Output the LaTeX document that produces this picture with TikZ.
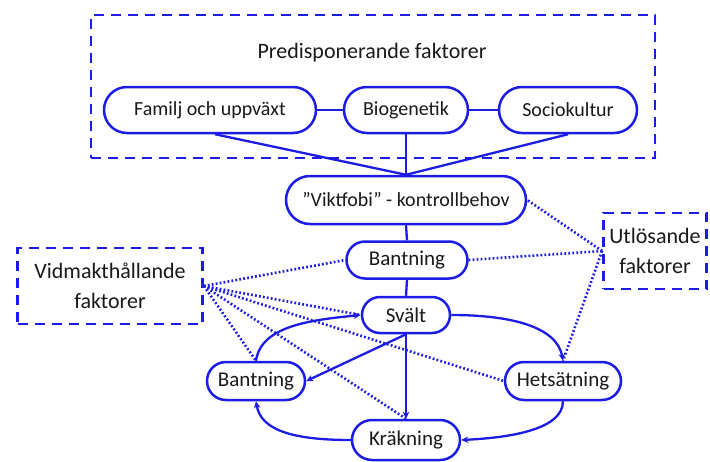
\documentclass[tikz,border=0pt]{standalone}
\usepackage{fontspec}
\setmainfont{Carlito}
\usetikzlibrary{arrows.meta}
\definecolor{lineblue}{RGB}{28,28,228}
\definecolor{txt}{RGB}{25,25,25}
\begin{document}
\begin{tikzpicture}[x=1pt,y=-1pt,
  pill/.style={draw=lineblue, line width=2.5pt, rectangle, fill=white, text=txt,
    font=\fontsize{21}{23}\selectfont, inner sep=0pt},
  dashbox/.style={draw=lineblue, line width=2.8pt, dash pattern=on 10pt off 7pt,
    rectangle, text=txt, font=\fontsize{22}{30}\selectfont, align=center, inner sep=0pt},
  conn/.style={draw=lineblue, line width=2.3pt},
  arr/.style={draw=lineblue, line width=2.3pt, -{Stealth[length=7pt,width=6.5pt]}},
  dots/.style={draw=lineblue, line width=2.6pt, dash pattern=on 1.8pt off 2.2pt},
  lbl/.style={text=txt, font=\fontsize{22}{24}\selectfont, inner sep=0pt}]
\useasboundingbox (0,0) rectangle (710,461);

% outer dashed box
\node[dashbox, minimum width=564pt, minimum height=143pt] (predbox) at (373,86.5) {};
\node[lbl] (predlbl) at (372,53) {Predisponerande faktorer};

% top row
\node[pill, font=\fontsize{20}{22}\selectfont, minimum width=212pt, minimum height=46pt, rounded corners=23pt] (fam) at (210,110) {Familj och uppväxt};
\node[pill, font=\fontsize{20}{22}\selectfont, minimum width=124pt, minimum height=46pt, rounded corners=23pt] (bio) at (406,110) {Biogenetik};
\node[pill, font=\fontsize{20}{22}\selectfont, minimum width=138pt, minimum height=46pt, rounded corners=23pt] (soc) at (568,110) {Sociokultur};

% central column
\node[pill, font=\fontsize{20}{22}\selectfont, minimum width=240pt, minimum height=48pt, rounded corners=24pt] (vikt) at (406,200) {”Viktfobi” - kontrollbehov};
\node[pill, minimum width=121pt, minimum height=37pt, rounded corners=18.5pt] (bant) at (407,260) {Bantning};
\node[pill, minimum width=88pt, minimum height=36pt, rounded corners=18pt] (svalt) at (406,315) {Svält};
\node[pill, minimum width=98pt, minimum height=38pt, rounded corners=19pt] (bantL) at (256,381) {Bantning};
\node[pill, minimum width=116pt, minimum height=38pt, rounded corners=19pt] (hets) at (563,381) {Hetsätning};
\node[pill, minimum width=108pt, minimum height=40pt, rounded corners=20pt] (krak) at (406,440) {Kräkning};

% side boxes
\node[dashbox, minimum width=185pt, minimum height=76pt] (vid) at (110,286) {Vidmakthållande\\faktorer};
\node[dashbox, minimum width=103pt, minimum height=76pt] (utl) at (655,251) {Utlösande\\faktorer};

% solid connectors
\draw[conn] (fam.east) -- (bio.west);
\draw[conn] (bio.east) -- (soc.west);
\draw[conn] ([xshift=5pt]fam.south) -- (vikt.north);
\draw[conn] (bio.south) -- (vikt.north);
\draw[conn] (soc.south) -- (vikt.north);
\draw[conn] (vikt.south) -- (bant.north);
\draw[conn] (bant.south) -- (svalt.north);

% arrows of the cycle
\draw[arr] (svalt.south) -- (bantL.east);
\draw[arr] (svalt.south) -- (krak.north);
\draw[arr] (svalt.east) .. controls +(60,0) and +(-6,-34) .. (hets.north);
\draw[arr] (hets.south) .. controls +(0,30) and +(42,-2) .. (krak.east);
\draw[arr] (krak.west) .. controls +(-55,0) and +(5,30) .. (bantL.south);
\draw[arr] (bantL.north) .. controls +(5,-35) and +(-50,5) .. (svalt.west);

% dotted influences
\draw[dots] (vid.east) -- (bant.west);
\draw[dots] (vid.east) -- (svalt.west);
\draw[dots] (vid.east) -- (hets.west);
\draw[dots] (vid.east) -- (krak.north);
\draw[dots] (vid.east) -- (bantL.north);
\draw[dots] (utl.west) -- (vikt.east);
\draw[dots] (utl.west) -- (bant.east);
\draw[dots] (utl.west) -- (hets.north);
\end{tikzpicture}
\end{document}
